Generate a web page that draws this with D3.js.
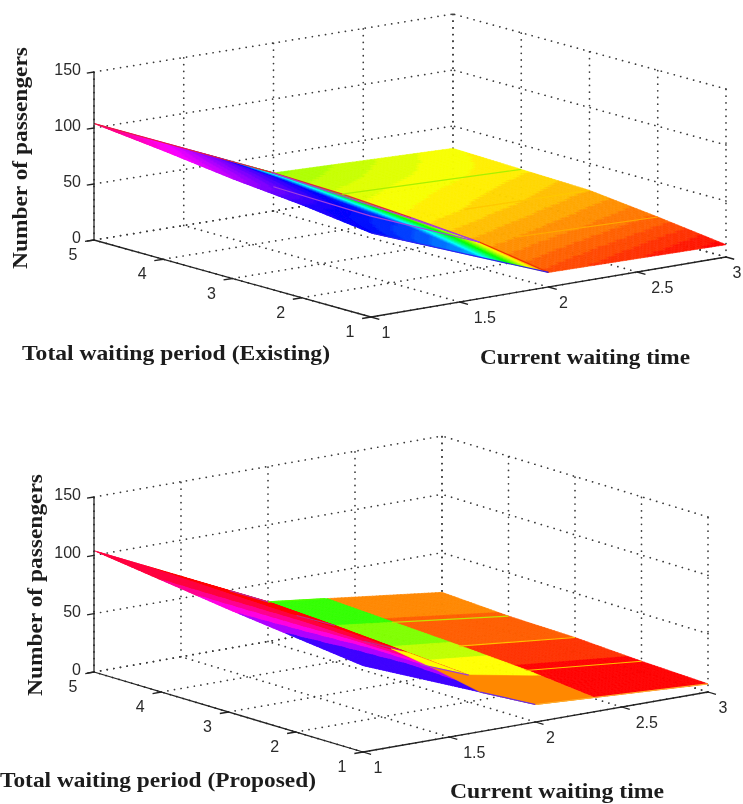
<!DOCTYPE html>
<html>
<head>
<meta charset="utf-8">
<style>
html, body { margin: 0; padding: 0; background: #fff; }
svg { display: block; }
.tick { font: 16px "Liberation Sans", Arial, sans-serif; fill: #2a2a2a; }
.title { font: bold 21px "Liberation Serif", serif; fill: #1c1c1c; }
</style>
<script src="https://cdnjs.cloudflare.com/ajax/libs/d3/7.8.5/d3.min.js"></script>
</head>
<body>
<svg width="743" height="804">
    <defs><filter id="soft" x="-5%" y="-5%" width="110%" height="110%"><feGaussianBlur stdDeviation="0.4"/></filter></defs>
</svg>
<script>
const xTicks = [1, 1.5, 2, 2.5, 3];
const yTicks = [1, 2, 3, 4, 5];
const zTicks = [0, 50, 100, 150];
const titleZ = 'Number of passengers';
const titleX = 'Current waiting time';

// passengers, rows are y = 1..5, columns x = 1, 2, 3
const surfaceX = [1, 2, 3];
const existingZ = [
    [75, 13, 11],
    [83, 23, 19],
    [89, 28, 26],
    [97, 32, 28],
    [104, 34, 30]
];
const proposedZ = [
    [74, 15, 7],
    [81, 23, 9],
    [88, 27, 12],
    [96, 31, 13],
    [104, 34, 16]
];

// colour data as hue, same rows, columns are given by hueX
const existingHueX = [1, 1.6, 2, 3];
const existingHue = [
    [240, 200, 18, 0],
    [250, 225, 40, 24],
    [285, 235, 58, 42],
    [305, 250, 68, 55],
    [338, 270, 84, 60]
];
const proposedHueX = [1, 1.6, 2, 2.001, 2.33, 2.331, 3];
const proposedHue = [
    [250, 250, 250, 32, 32, 0, 0],
    [262, 272, 345, 50, 50, 3, 3],
    [300, 322, 358, 80, 80, 17, 17],
    [335, 350, 360, 99, 99, 26, 26],
    [348, 358, 360, 108, 108, 32, 32]
];
// the colormap of the second plot only has a few levels
const proposedLevels = [0, 12, 22, 32, 60, 75, 90, 108, 255, 281, 307, 326, 345, 360];
const existingLevels = d3.range(0, 361, 5.625);

// flat patches on the second plot, [x, y] corners
const proposedPatches = [
    {hue: 60, pts: [[1.9, 2.9], [2, 2.9], [2, 2], [1.78, 2]]},
    {hue: 32, pts: [[1.68, 1], [2, 1], [2.33, 1], [2.33, 1.8], [2, 2], [1.78, 2]]}
];

// mesh lines that show through, [x, y] along the surface
const existingLines = [
    {color: '#e8203c', pts: [[1, 5], [2, 5]]},
    {color: '#e8203c', pts: [[2, 5], [2, 4]]},
    {color: '#e8203c', pts: [[2, 4], [2, 3]]},
    {color: '#b030d0', pts: [[2, 3], [2, 2]]},
    {color: '#f03000', pts: [[2, 2], [2, 1]]},
    {color: '#3020f0', pts: [[1, 1], [2, 1]]},
    {color: '#a040e0', pts: [[1.95, 4.9], [1.95, 3], [2, 2]]},
    {color: '#a040e0', pts: [[1.26, 3.08], [1.5, 2.3], [2, 2]]},
    {color: '#a8f000', pts: [[2, 4], [3, 4]]},
    {color: '#ffc800', pts: [[2.3, 3], [3, 3]]},
    {color: '#ffaa00', pts: [[2.2, 2], [3, 2]]}
];
const proposedLines = [
    {color: '#c02890', pts: [[1.78, 5], [2, 5]]},
    {color: '#c02890', pts: [[1.78, 4], [2, 4]]},
    {color: '#c02890', pts: [[1.78, 3], [2, 3]]},
    {color: '#a040d0', pts: [[1.72, 2], [2, 2]]},
    {color: '#6a30e0', pts: [[1.68, 1], [2, 1]]},
    {color: '#c8e000', pts: [[2.33, 4], [3, 4]]},
    {color: '#ffc000', pts: [[2.33, 3], [3, 3]]},
    {color: '#ffc000', pts: [[2.33, 2], [3, 2]]},
    {color: '#ffb030', pts: [[2, 1], [3, 1]]},
    {color: '#50ff00', pts: [[2, 5], [2.33, 5]]}
];

const panels = [
    {
        o: [371, 317], ex: [355, -60], ey: [-277, -77], bend: [4, 2], ez: -168,
        z: existingZ, hueX: existingHueX, hue: existingHue, levels: existingLevels,
        patches: [], lines: existingLines,
        titleY: 'Total waiting period (Existing)',
        yTitle: [22, 360, 308], xTitle: [480, 364, 210], zTitle: [27, 158, 222]
    },
    {
        o: [363, 752], ex: [345, -60], ey: [-269, -80], bend: [3, -1], ez: -175,
        z: proposedZ, hueX: proposedHueX, hue: proposedHue, levels: proposedLevels,
        patches: proposedPatches, lines: proposedLines,
        titleY: 'Total waiting period (Proposed)',
        yTitle: [0, 787, 316], xTitle: [450, 798, 214], zTitle: [42, 585, 222]
    }
];

const svg = d3.select('svg');

// bilinear lookup in a table through linear scales
function table(rows, cols) {
    const byCol = cols.map((_, j) => d3.scaleLinear().domain(yTicks).range(rows.map(r => r[j])));
    return (x, y) => d3.scaleLinear().domain(cols).range(byCol.map(s => s(y)))(x);
}

function drawPanel(p) {
    const g = svg.append('g').attr('filter', 'url(#soft)');
    const xs = d3.scaleLinear().domain([1, 3]).range([0, 1]);
    const ys = d3.scaleLinear().domain([1, 5]).range([0, 1]);
    const zs = d3.scaleLinear().domain([0, 150]).range([0, p.ez]);
    const project = (x, y, z) => [
        p.o[0] + xs(x) * p.ex[0] + ys(y) * p.ey[0] + xs(x) * ys(y) * p.bend[0],
        p.o[1] + xs(x) * p.ex[1] + ys(y) * p.ey[1] + xs(x) * ys(y) * p.bend[1] + zs(z)
    ];
    const line = d3.line();

    // dotted box
    const grid = [];
    xTicks.forEach(x => {
        grid.push([[x, 5, 0], [x, 5, 150]]);
        grid.push([[x, 1, 0], [x, 5, 0]]);
    });
    yTicks.forEach(y => {
        grid.push([[3, y, 0], [3, y, 150]]);
        grid.push([[1, y, 0], [3, y, 0]]);
    });
    zTicks.forEach(z => {
        grid.push([[1, 5, z], [3, 5, z]]);
        grid.push([[3, 1, z], [3, 5, z]]);
    });
    g.append('g').selectAll('path').data(grid).enter().append('path')
    .attr('d', d => line(d.map(v => project(...v))))
    .attr('fill', 'none')
    .attr('stroke', '#3a3a3a')
    .attr('stroke-width', 1.7)
    .attr('stroke-linecap', 'round')
    .attr('stroke-dasharray', '0.1 6.6');

    // surface, far cells first
    const zAt = table(p.z, surfaceX);
    const hueAt = table(p.hue, p.hueX);
    const snap = h => d3.least(p.levels, l => Math.abs(l - h));
    const color = h => d3.hsl(snap(h), 1, 0.5).formatHex();
    const cells = [];
    const dx = 0.02;
    const dy = 0.05;
    d3.range(0, 100).reverse().forEach(i => {
        d3.range(0, 80).reverse().forEach(j => {
            const x0 = 1 + i * dx;
            const y0 = 1 + j * dy;
            cells.push({
                pts: [[x0, y0], [x0 + dx, y0], [x0 + dx, y0 + dy], [x0, y0 + dy]],
                hue: hueAt(x0 + dx / 2, y0 + dy / 2)
            });
        });
    });
    const onSurface = q => project(q[0], q[1], zAt(q[0], q[1]));
    const facets = cells.concat(p.patches);
    g.append('g').selectAll('path').data(facets).enter().append('path')
    .attr('d', d => line(d.pts.map(onSurface)) + 'Z')
    .attr('fill', d => color(d.hue))
    .attr('stroke', d => color(d.hue))
    .attr('stroke-width', 0.6);

    g.append('g').selectAll('path').data(p.lines).enter().append('path')
    .attr('d', d => line(d.pts.map(onSurface)))
    .attr('fill', 'none')
    .attr('stroke', d => d.color)
    .attr('stroke-width', 1.2);

    // solid axes
    const axes = [[[1, 5, 0], [1, 5, 150]], [[1, 1, 0], [1, 5, 0]], [[1, 1, 0], [3, 1, 0]]];
    zTicks.forEach(z => axes.push([[1, 5, z], [0.96, 5, z]]));
    yTicks.forEach(y => axes.push([[1, y, 0], [0.95, y, 0]]));
    xTicks.forEach(x => axes.push([[x, 1, 0], [x, 0.88, 0]]));
    g.append('g').selectAll('path').data(axes).enter().append('path')
    .attr('d', d => line(d.map(v => project(...v))))
    .attr('fill', 'none')
    .attr('stroke', '#222')
    .attr('stroke-width', 1.3);

    // tick labels
    const tick = g.append('g').attr('class', 'tick');
    tick.selectAll('text.z').data(zTicks).enter().append('text').attr('class', 'z')
    .attr('x', d => project(1, 5, d)[0] - 13)
    .attr('y', d => project(1, 5, d)[1] + 3)
    .attr('text-anchor', 'end')
    .text(d => d);
    tick.selectAll('text.y').data(yTicks).enter().append('text').attr('class', 'y')
    .attr('x', d => project(1, d, 0)[0] - 21)
    .attr('y', d => project(1, d, 0)[1] + 20)
    .attr('text-anchor', 'middle')
    .text(d => d);
    tick.selectAll('text.x').data(xTicks).enter().append('text').attr('class', 'x')
    .attr('x', d => Math.min(project(d, 1, 0)[0] + (Number.isInteger(d) ? 15 : 25), 737))
    .attr('y', d => project(d, 1, 0)[1] + 21)
    .attr('text-anchor', 'middle')
    .text(d => d);

    // titles
    g.append('text').attr('class', 'title')
    .attr('x', p.yTitle[0]).attr('y', p.yTitle[1])
    .attr('textLength', p.yTitle[2]).attr('lengthAdjust', 'spacingAndGlyphs')
    .text(p.titleY);
    g.append('text').attr('class', 'title')
    .attr('x', p.xTitle[0]).attr('y', p.xTitle[1])
    .attr('textLength', p.xTitle[2]).attr('lengthAdjust', 'spacingAndGlyphs')
    .text(titleX);
    g.append('text').attr('class', 'title')
    .attr('transform', 'translate(' + p.zTitle[0] + ',' + p.zTitle[1] + ') rotate(-90)')
    .attr('text-anchor', 'middle')
    .attr('textLength', p.zTitle[2]).attr('lengthAdjust', 'spacingAndGlyphs')
    .text(titleZ);
}

panels.forEach(drawPanel);
</script>
</body>
</html>
